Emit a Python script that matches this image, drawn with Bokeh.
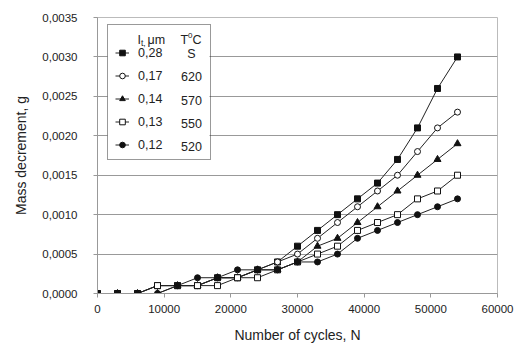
from bokeh.plotting import figure
from bokeh.models import (Range1d, FixedTicker, CustomJSTickFormatter, Legend, LegendItem, Label, BoxAnnotation)
from bokeh.embed import file_html
from bokeh.resources import INLINE

# ---- data ----
cycles = [0, 3000, 6000, 9000, 12000, 15000, 18000, 21000, 24000, 27000,
          30000, 33000, 36000, 39000, 42000, 45000, 48000, 51000, 54000]
s_028 = [0, 0, 0, 0.0001, 0.0001, 0.0001, 0.0002, 0.0002, 0.0003, 0.0004,
         0.0006, 0.0008, 0.0010, 0.0012, 0.0014, 0.0017, 0.0021, 0.0026, 0.0030]
s_017 = [0, 0, 0, 0.0001, 0.0001, 0.0001, 0.0002, 0.0002, 0.0003, 0.0004,
         0.0005, 0.0007, 0.0009, 0.0011, 0.0013, 0.0015, 0.0018, 0.0021, 0.0023]
s_014 = [0, 0, 0, 0, 0.0001, 0.0001, 0.0002, 0.0002, 0.0003, 0.0003,
         0.0004, 0.0006, 0.0007, 0.0009, 0.0011, 0.0013, 0.0015, 0.0017, 0.0019]
s_013 = [0, 0, 0, 0.0001, 0.0001, 0.0001, 0.0001, 0.0002, 0.0002, 0.0003,
         0.0004, 0.0005, 0.0006, 0.0008, 0.0009, 0.0010, 0.0012, 0.0013, 0.0015]
s_012 = [0, 0, 0, 0, 0.0001, 0.0002, 0.0002, 0.0003, 0.0003, 0.0003,
         0.0004, 0.0004, 0.0005, 0.0007, 0.0008, 0.0009, 0.0010, 0.0011, 0.0012]
thickness_labels = ["0,28", "0,17", "0,14", "0,13", "0,12"]
temp_labels = ["S", "620", "570", "550", "520"]
y_ticks = [0, 0.0005, 0.0010, 0.0015, 0.0020, 0.0025, 0.0030, 0.0035]
x_ticks = [0, 10000, 20000, 30000, 40000, 50000, 60000]

series = [s_028, s_017, s_014, s_013, s_012]
markers = ["square", "circle", "triangle", "square", "circle"]
fills = ["#111111", "white", "#111111", "white", "#111111"]
sizes = [6, 6, 7, 6, 6]

FONT = "Liberation Sans"
X0, X1 = 0, 60000
Y0, Y1 = 0, 0.0035
L, R, T, B = 97, 18, 17, 53
W, H = 515, 346
FW, FH = W - L - R, H - T - B

def dx(px):
    return X0 + (px - L) / FW * (X1 - X0)

def dy(py):
    return Y0 + (T + FH - py) / FH * (Y1 - Y0)

p = figure(width=W, height=H, output_backend="svg", toolbar_location=None,
           x_range=Range1d(X0, X1), y_range=Range1d(Y0, Y1),
           min_border_left=L, min_border_right=R, min_border_top=T, min_border_bottom=B)
p.background_fill_color = "white"
p.border_fill_color = "white"
p.outline_line_color = "#bbbbbb"
p.xgrid.visible = False
p.ygrid.grid_line_color = "#999999"
p.ygrid.grid_line_width = 1

p.yaxis.ticker = FixedTicker(ticks=y_ticks)
p.xaxis.ticker = FixedTicker(ticks=x_ticks)
p.yaxis.formatter = CustomJSTickFormatter(code="return tick.toFixed(4).replace('.', ',');")
p.xaxis.formatter = CustomJSTickFormatter(code="return tick.toFixed(0);")
for ax in (p.xaxis, p.yaxis):
    ax.axis_line_color = "#999999"
    ax.major_tick_line_color = "#999999"
    ax.major_tick_in = 0
    ax.major_tick_out = 4
    ax.minor_tick_line_color = None
    ax.major_label_text_font = FONT
    ax.major_label_text_font_size = "11.5px"
    ax.major_label_text_color = "#222222"
    ax.axis_label_text_font = FONT
    ax.axis_label_text_font_size = "14px"
    ax.axis_label_text_font_style = "normal"
    ax.axis_label_text_color = "#222222"
p.yaxis.major_label_standoff = 16
p.yaxis.axis_label_standoff = 10
p.xaxis.major_label_standoff = 7
p.xaxis.axis_label_standoff = 11
p.xaxis.axis_label = "Number of cycles, N"
p.yaxis.axis_label = "Mass decrement, g"

# white backing for the legend box (hides grid lines)
p.add_layout(BoxAnnotation(left=dx(107), right=dx(209), top=dy(25.5), bottom=dy(158.5),
                           fill_color="white", fill_alpha=1.0, line_color=None,
                           level="underlay"))

items = []
for ys, mk, fc, sz, name in zip(series, markers, fills, sizes, thickness_labels):
    ln = p.line(cycles, ys, line_color="#222222", line_width=1)
    sc = p.scatter(cycles, ys, marker=mk, size=sz, fill_color=fc,
                   line_color="#111111", line_width=1)
    items.append(LegendItem(label=name, renderers=[ln, sc]))

legend = Legend(items=items, location=(10, 133), padding=7, margin=0,
                spacing=8, glyph_height=15, glyph_width=14, label_height=15,
                label_width=65, label_standoff=9,
                label_text_font=FONT, label_text_font_size="12.5px",
                label_text_color="#222222",
                title=" ", title_text_font_size="10px", title_standoff=2,
                border_line_color="#333333", border_line_width=1,
                background_fill_alpha=0.0)
p.add_layout(legend, "center")

def lab(txt, px, py, size="12.5px", align="left"):
    p.add_layout(Label(x=dx(px), y=dy(py), text=txt, text_font=FONT,
                       text_font_size=size, text_color="#222222",
                       text_align=align, text_baseline="middle"))

lab("I", 137, 39)
lab("t,", 140.5, 42, size="8.5px")
lab("\u03bcm", 147, 39)
lab("T", 180, 39)
lab("0", 187.5, 35, size="8px")
lab("C", 192, 39)
row_y = [53.3, 76.4, 99.5, 122.6, 145.7]
for t, ry in zip(temp_labels, row_y):
    lab(t, 191, ry, align="center")

open("out.html", "w").write(file_html(p, INLINE))
